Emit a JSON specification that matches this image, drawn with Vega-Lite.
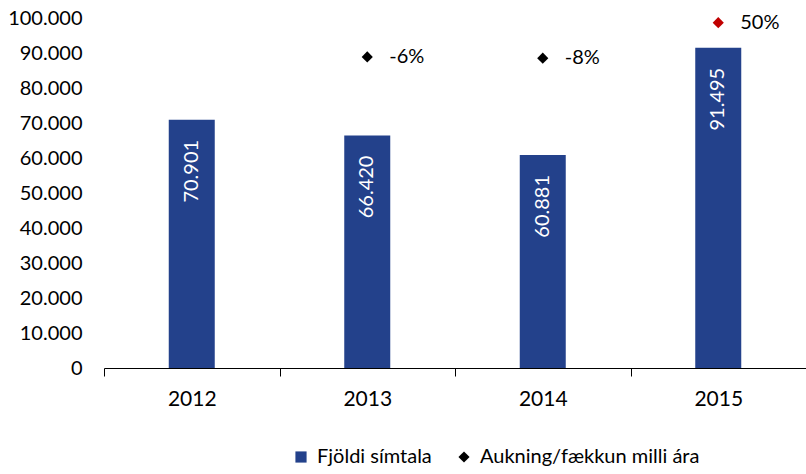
{
  "$schema": "https://vega.github.io/schema/vega-lite/v6.json",
  "width": 702,
  "height": 350,
  "autosize": "none",
  "padding": {"left": 104, "top": 18, "right": 0, "bottom": 106},
  "background": "white",
  "config": {
    "view": {"stroke": null},
    "font": "Lato",
    "axis": {"labelFont": "Lato", "labelColor": "#000000", "labelFontSize": 20, "grid": false}
  },
  "data": {
    "values": [
      {"year": "2012", "calls": 70901, "change": null},
      {"year": "2013", "calls": 66420, "change": -6.3},
      {"year": "2014", "calls": 60881, "change": -8.3},
      {"year": "2015", "calls": 91495, "change": 50.3}
    ]
  },
  "encoding": {
    "x": {
      "field": "year",
      "type": "ordinal",
      "scale": {"paddingInner": 0, "paddingOuter": 0},
      "axis": {
        "title": null,
        "labelAngle": 0,
        "labelFontSize": 21,
        "tickBand": "extent",
        "domainColor": "#000000",
        "tickColor": "#000000",
        "tickSize": 8,
        "labelPadding": 12
      }
    }
  },
  "layer": [
    {
      "layer": [
        {
          "mark": {"type": "bar", "size": 46},
          "encoding": {
            "y": {
              "field": "calls",
              "type": "quantitative",
              "scale": {"domain": [0, 100000], "nice": false},
              "axis": {
                "title": null,
                "values": [0, 10000, 20000, 30000, 40000, 50000, 60000, 70000, 80000, 90000, 100000],
                "labelOverlap": false,
                "labelSeparation": 0,
                "domain": false,
                "ticks": false,
                "labelPadding": 22,
                "labelExpr": "replace(format(datum.value, ','), ',', '.')"
              }
            },
            "color": {
              "datum": "Fjöldi símtala",
              "scale": {"domain": ["Fjöldi símtala", "Aukning/fækkun milli ára"], "range": ["#23418B", "#000000"]},
              "legend": {
                "title": null,
                "orient": "none",
                "direction": "horizontal",
                "legendX": 187,
                "legendY": 429,
                "labelFontSize": 20,
                "labelFont": "Lato",
                "labelColor": "#000000",
                "labelLimit": 400,
                "symbolSize": 125,
                "symbolStrokeWidth": 0,
                "columnPadding": 22,
                "labelOffset": 6
              }
            }
          }
        },
        {
          "transform": [{"calculate": "replace(format(datum.calls, ','), ',', '.')", "as": "label"}],
          "mark": {"type": "text", "angle": 270, "align": "right", "baseline": "middle", "yOffset": 20, "fontSize": 20, "color": "white", "font": "Lato"},
          "encoding": {
            "y": {
              "field": "calls",
              "type": "quantitative",
              "axis": {
                "title": null,
                "values": [0, 10000, 20000, 30000, 40000, 50000, 60000, 70000, 80000, 90000, 100000],
                "labelOverlap": false,
                "labelSeparation": 0,
                "domain": false,
                "ticks": false,
                "labelPadding": 22,
                "labelExpr": "replace(format(datum.value, ','), ',', '.')"
              }
            },
            "text": {"field": "label"}
          }
        }
      ]
    },
    {
      "transform": [
        {"filter": "datum.change != null"},
        {"calculate": "toString(round(datum.change)) + '%'", "as": "pct"}
      ],
      "layer": [
        {
          "mark": {"type": "point", "filled": true, "size": 125, "opacity": 1},
          "encoding": {
            "y": {"field": "change", "type": "quantitative", "scale": {"domain": [-520, 58], "nice": false, "zero": false}, "axis": null},
            "color": {
              "condition": {"test": "datum.change > 0", "value": "#C00000"},
              "datum": "Aukning/fækkun milli ára"
            },
            "shape": {
              "datum": "Aukning/fækkun milli ára",
              "scale": {"domain": ["Fjöldi símtala", "Aukning/fækkun milli ára"], "range": ["square", "diamond"]}
            }
          }
        },
        {
          "mark": {"type": "text", "align": "left", "baseline": "middle", "dx": 22, "fontSize": 20, "font": "Lato", "color": "#000000"},
          "encoding": {
            "y": {"field": "change", "type": "quantitative", "axis": null},
            "text": {"field": "pct"}
          }
        }
      ]
    }
  ],
  "resolve": {"scale": {"y": "independent"}}
}
